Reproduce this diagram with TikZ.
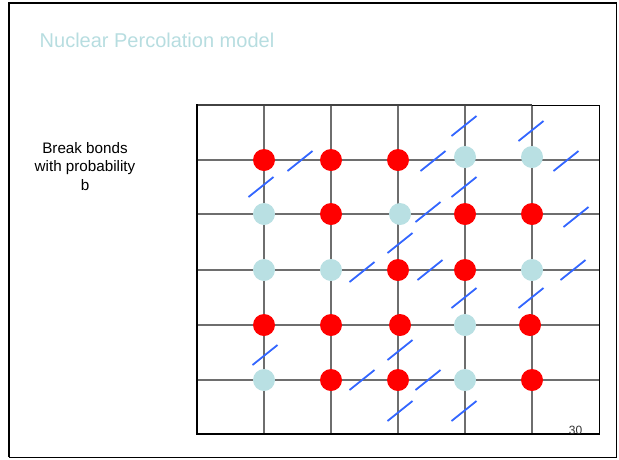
\documentclass[tikz,border=0pt]{standalone}
\usepackage{fontspec}
\setmainfont{Liberation Sans}
\usepackage{tikz}
\definecolor{titleblue}{HTML}{B7DDE0}
\definecolor{siteblue}{HTML}{B9E0E3}
\definecolor{cutblue}{HTML}{3366FF}
\definecolor{gridgray}{HTML}{6E6E6E}

\begin{document}
\begin{tikzpicture}[
    x=1pt, y=-1pt,
    site/.style={circle, inner sep=0pt, minimum size=22pt},
    hit/.style={site, fill=red},
    miss/.style={site, fill=siteblue},
    bond/.style={draw=gridgray, line width=1.4pt},
    cut/.style={draw=cutblue, line width=1.8pt}
]
\useasboundingbox (0,0) rectangle (619,459);
% slide frame
\draw[line width=1pt] (9,457) -- (616,457) -- (616,2);
\draw[line width=2pt] (9,457) -- (9,2.5) -- (616,2.5);

\node[anchor=base west, font=\fontsize{20}{24}\selectfont, text=titleblue, inner sep=0pt]
    (title) at (39.5,47) {Nuclear Percolation model};
\node[anchor=north, align=center, inner sep=0pt,
      font=\fontsize{15.2}{18.5}\selectfont] (rule) at (85,142)
    {Break bonds\\with probability\\b};

% lattice
\foreach \x in {264,331,398,465,532}
    \draw[bond] (\x,105) -- (\x,434);
\foreach \y in {160,214,270,325,380}
    \draw[bond] (197,\y) -- (600,\y);
\draw[gridgray!60!black, line width=1.4pt] (197,105) -- (532,105);
\draw[line width=0.8pt] (532,105) -- (599,105) -- (599,160);
\draw[line width=1.4pt] (599.5,160) -- (599.5,434);
\draw[line width=2pt] (197,104.3) -- (197,434) -- (600.2,434);

% sites
\foreach \x/\y/\s [count=\n] in {
    264/160/hit, 331/160/hit, 398/160/hit, 465/157/miss, 532/157/miss,
    264/214/miss, 331/214/hit, 400/214/miss, 465/214/hit, 532/214/hit,
    264/270/miss, 331/270/miss, 398/270/hit, 465/270/hit, 532/270/miss,
    264/325/hit, 331/325/hit, 400/325/hit, 465/325/miss, 530/325/hit,
    264/380/miss, 331/380/hit, 398/380/hit, 465/380/miss, 532/380/hit}
    \node[\s] (s\n) at (\x,\y) {};

% broken bonds
\foreach \x/\y in {300/161, 433/161, 566/161, 464/126, 531/131, 261/187,
    464/187, 428/212, 576/217, 400/243, 362/272, 430/270, 573/270,
    464/298, 531/298, 265/355, 400/350, 362/380, 428/380, 400/411, 464/411}
    \draw[cut] (\x-12.5,\y+10) -- (\x+12.5,\y-10);

\node[anchor=base, font=\fontsize{12}{14}\selectfont, text=black!80, inner sep=0pt]
    (page) at (575.5,434) {30};
\end{tikzpicture}
\end{document}
